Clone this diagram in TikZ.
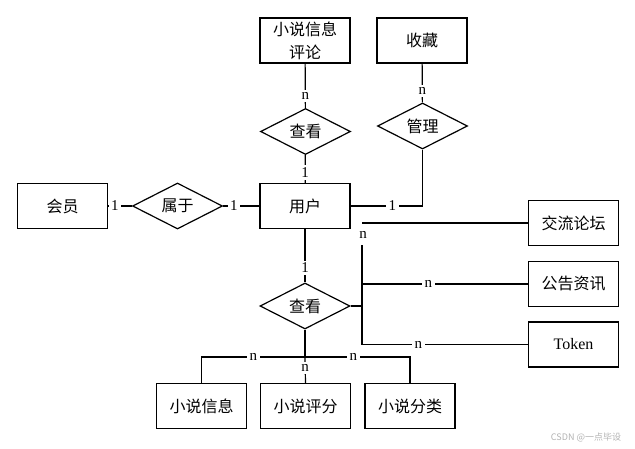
\documentclass[tikz,border=0pt]{standalone}
\usepackage{fontspec}
\setmainfont{Liberation Serif}
\newfontfamily\cjk{Noto Sans CJK SC}
\usetikzlibrary{shapes.geometric}

\begin{document}
\begin{tikzpicture}[x=1pt,y=-1pt,line width=1.2pt,
  entity/.style={rectangle,draw,minimum width=90pt,minimum height=45pt,inner sep=0pt,align=center,font=\cjk\fontsize{16}{23}\selectfont},
  relation/.style={diamond,draw,aspect=2,inner sep=0pt,minimum width=90pt,minimum height=46pt,font=\cjk\fontsize{16}{20}\selectfont},
  card/.style={fill=white,inner sep=2.5pt,font=\fontsize{15}{15}\selectfont}]
  \useasboundingbox (0,0) rectangle (635,448);

  \node[entity] (pinglun) at (305,40.5) {小说信息\\评论};
  \node[entity] (shoucang) at (422,40.5) {收藏};
  \node[relation] (kan1) at (305.5,131.5) {查看};
  \node[relation] (guanli) at (422.5,126) {管理};
  \node[entity] (huiyuan) at (62.5,206) {会员};
  \node[relation] (shuyu) at (177.5,206) {属于};
  \node[entity] (yonghu) at (305,206) {用户};
  \node[entity] (jiaoliu) at (573.5,223) {交流论坛};
  \node[entity] (gonggao) at (573.5,284) {公告资讯};
  \node[entity,font=\fontsize{16}{16}\selectfont] (token) at (573.5,344.5) {Token};
  \node[relation] (kan2) at (305,306) {查看};
  \node[entity] (xinxi) at (201.5,406) {小说信息};
  \node[entity] (pingfen) at (305.5,406) {小说评分};
  \node[entity] (fenlei) at (410,406) {小说分类};

  \coordinate (bus) at (362,306);
  \coordinate (bustop) at (362,245);
  \coordinate (jlstart) at (362,223);
  \coordinate (fork) at (305,357);

\path[every node/.style={card}]
  (pinglun) edge node[pos=0.73] {n} (kan1)
  (kan1) edge node[pos=0.64] {1} (yonghu)
  (shoucang) edge node[pos=0.7] {n} (guanli)
  (huiyuan) edge node[pos=0.28] {1} (shuyu)
  (shuyu) edge node[pos=0.3] {1} (yonghu)
  (yonghu) edge node[pos=0.73] {1} (kan2)
  (jlstart) edge (jiaoliu.west)
;
  \draw (guanli.south) |- node[card,pos=0.71] {1} (yonghu.east);
  \draw (token.west) -| node[card,pos=0.33] {n} (bustop);
  \draw (gonggao.west -| bus) -- node[card,pos=0.4] {n} (gonggao.west);
  \node[card] (bustopn) at (363,235) {n};
  \draw[line width=2.5pt] (kan2.east) -- (bus);
  \draw[line width=2.5pt] (kan2.south) -- (fork);
  \draw (fork) -| node[card,pos=0.25] {n} (xinxi.north);
  \draw (fork) -| node[card,pos=0.23] {n} (fenlei.north);
  \draw (fork) -- node[card,pos=0.44] {n} (pingfen.north);

  \node[text=black!30,font=\cjk\fontsize{9}{9}\selectfont] (mark) at (586,437) {CSDN @一点毕设};
\end{tikzpicture}
\end{document}
